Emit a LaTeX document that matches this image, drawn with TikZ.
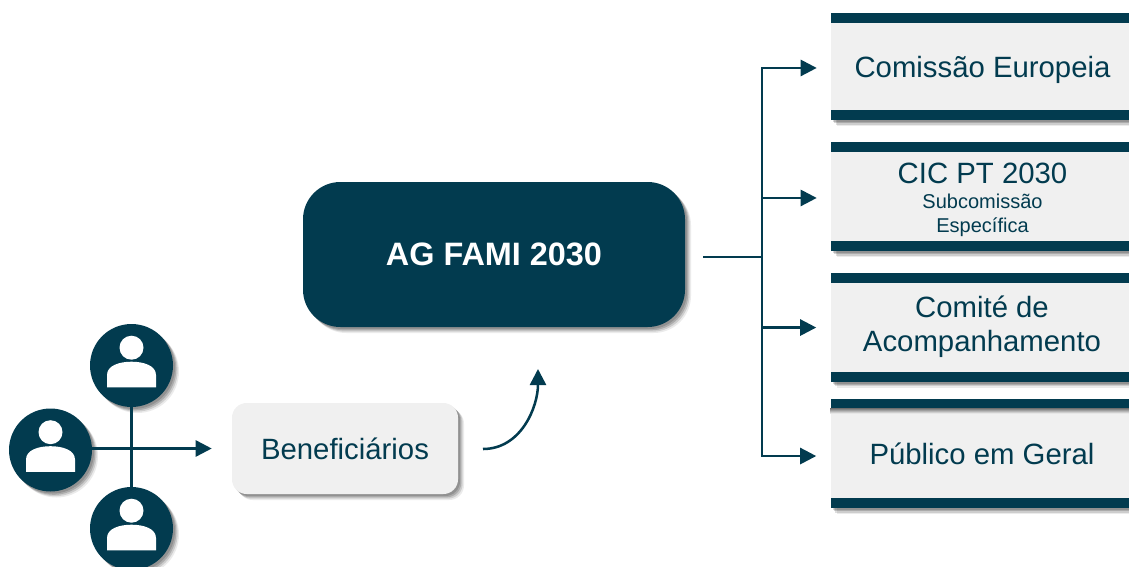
\documentclass[tikz,border=0pt]{standalone}
\usepackage{fontspec}
\setmainfont{Liberation Sans}
\usetikzlibrary{arrows.meta, shadows}
\definecolor{famiblue}{HTML}{023B4F}
\definecolor{famigray}{HTML}{F0F0F0}
\tikzset{
  softshadow/.style={
    drop shadow={shadow xshift=1.5pt, shadow yshift=-1.5pt, opacity=.16, fill=black},
    drop shadow={shadow xshift=2.5pt, shadow yshift=-2.5pt, opacity=.16, fill=black},
    drop shadow={shadow xshift=3.5pt, shadow yshift=-3.5pt, opacity=.13, fill=black},
    drop shadow={shadow xshift=4.5pt, shadow yshift=-4.5pt, opacity=.08, fill=black}},
  flow/.style={draw=famiblue, line width=1.9pt, -{Triangle[length=12pt, width=12pt]}},
  plainline/.style={draw=famiblue, line width=1.9pt},
  userdisc/.style={circle, fill=famiblue, minimum size=62.25pt, inner sep=0pt, softshadow},
  orgbox/.style={rectangle, fill=famigray, minimum width=227.25pt, inner sep=0pt, align=center,
    text=famiblue, font=\fontsize{22}{25.5}\selectfont, softshadow,
    path picture={
      \fill[famiblue] (path picture bounding box.north west) rectangle
        ([yshift=-7.5pt]path picture bounding box.north east);
      \fill[famiblue] (path picture bounding box.south west) rectangle
        ([yshift=7.5pt]path picture bounding box.south east);
    }}
}
\begin{document}
\begin{tikzpicture}[x=.75pt, y=-.75pt]
\useasboundingbox (0,0) rectangle (1129,567);

\node (ag) [rectangle, rounded corners=28pt, fill=famiblue, minimum width=286.5pt, minimum height=108.75pt,
            text=white, font=\fontsize{24.3}{28}\selectfont\bfseries, softshadow] at (494,254.5) {AG FAMI 2030};
\node (benef) [rectangle, rounded corners=11pt, fill=famigray, minimum width=169.5pt, minimum height=68.25pt,
               text=famiblue, font=\fontsize{22}{26}\selectfont, softshadow] at (345,448.5) {Beneficiários};

\node (ce)  [orgbox, minimum height=80.25pt] at (982.5,66.5) {\raisebox{0pt}[\dimexpr\height+4.4pt]{Comissão Europeia}};
\node (cic) [orgbox, minimum height=81.75pt] at (982.5,196.5)
  {\raisebox{0pt}[\dimexpr\height+4.5pt]{CIC PT 2030}\\[-6.5pt]{\fontsize{15}{17.25}\selectfont Subcomissão}\\[-7.5pt]{\fontsize{15}{17.25}\selectfont Específica}};
\node (cmt) [orgbox, minimum height=81.75pt] at (982,327) {Comité de\\Acompanhamento};
\node (pub) [orgbox, minimum height=81.75pt] at (982,453.5) {Público em Geral};
\shade[top color=black!50, bottom color=famigray] ([yshift=-7.5pt]pub.north west) rectangle ([yshift=-11pt]pub.north east);

\node (utop)  [userdisc] at (131.5,365.5) {};
\node (uleft) [userdisc] at (50.5,450) {};
\node (ubot)  [userdisc] at (131.5,528.5) {};
\foreach \who in {utop, uleft, ubot} {
  \begin{scope}[shift={(\who.center)}]
    \fill[white] (0,-17.8) circle (9pt);
    \fill[white] (-24.5,21.8) -- (-24.5,9.5) .. controls (-24.5,0) and (-12,-3.8) .. (0,-3.8)
      .. controls (12,-3.8) and (24.5,0) .. (24.5,9.5) -- (24.5,21.8) -- cycle;
  \end{scope}
}

% connectors
\coordinate (bus) at (762,257);
\coordinate (curvefrom) at (483,449);
\coordinate (curveto) at (538,369);
\draw[plainline] (utop) -- (ubot);
\draw[flow, shorten >=15pt] (uleft.east |- benef.west) -- (benef.west);
\draw[flow] (curvefrom) to[out=0, in=-90] (curveto);
\draw[plainline, shorten <=13.5pt] (ag.east |- bus) -- (bus);
\foreach \org/\shift in {ce/-1.1pt, cic/-1.1pt, cmt/-.4pt, pub/-1.9pt} {
  \draw[flow, shorten >=10.5pt] (bus) |- ([yshift=\shift]\org.west);
}
\end{tikzpicture}
\end{document}
